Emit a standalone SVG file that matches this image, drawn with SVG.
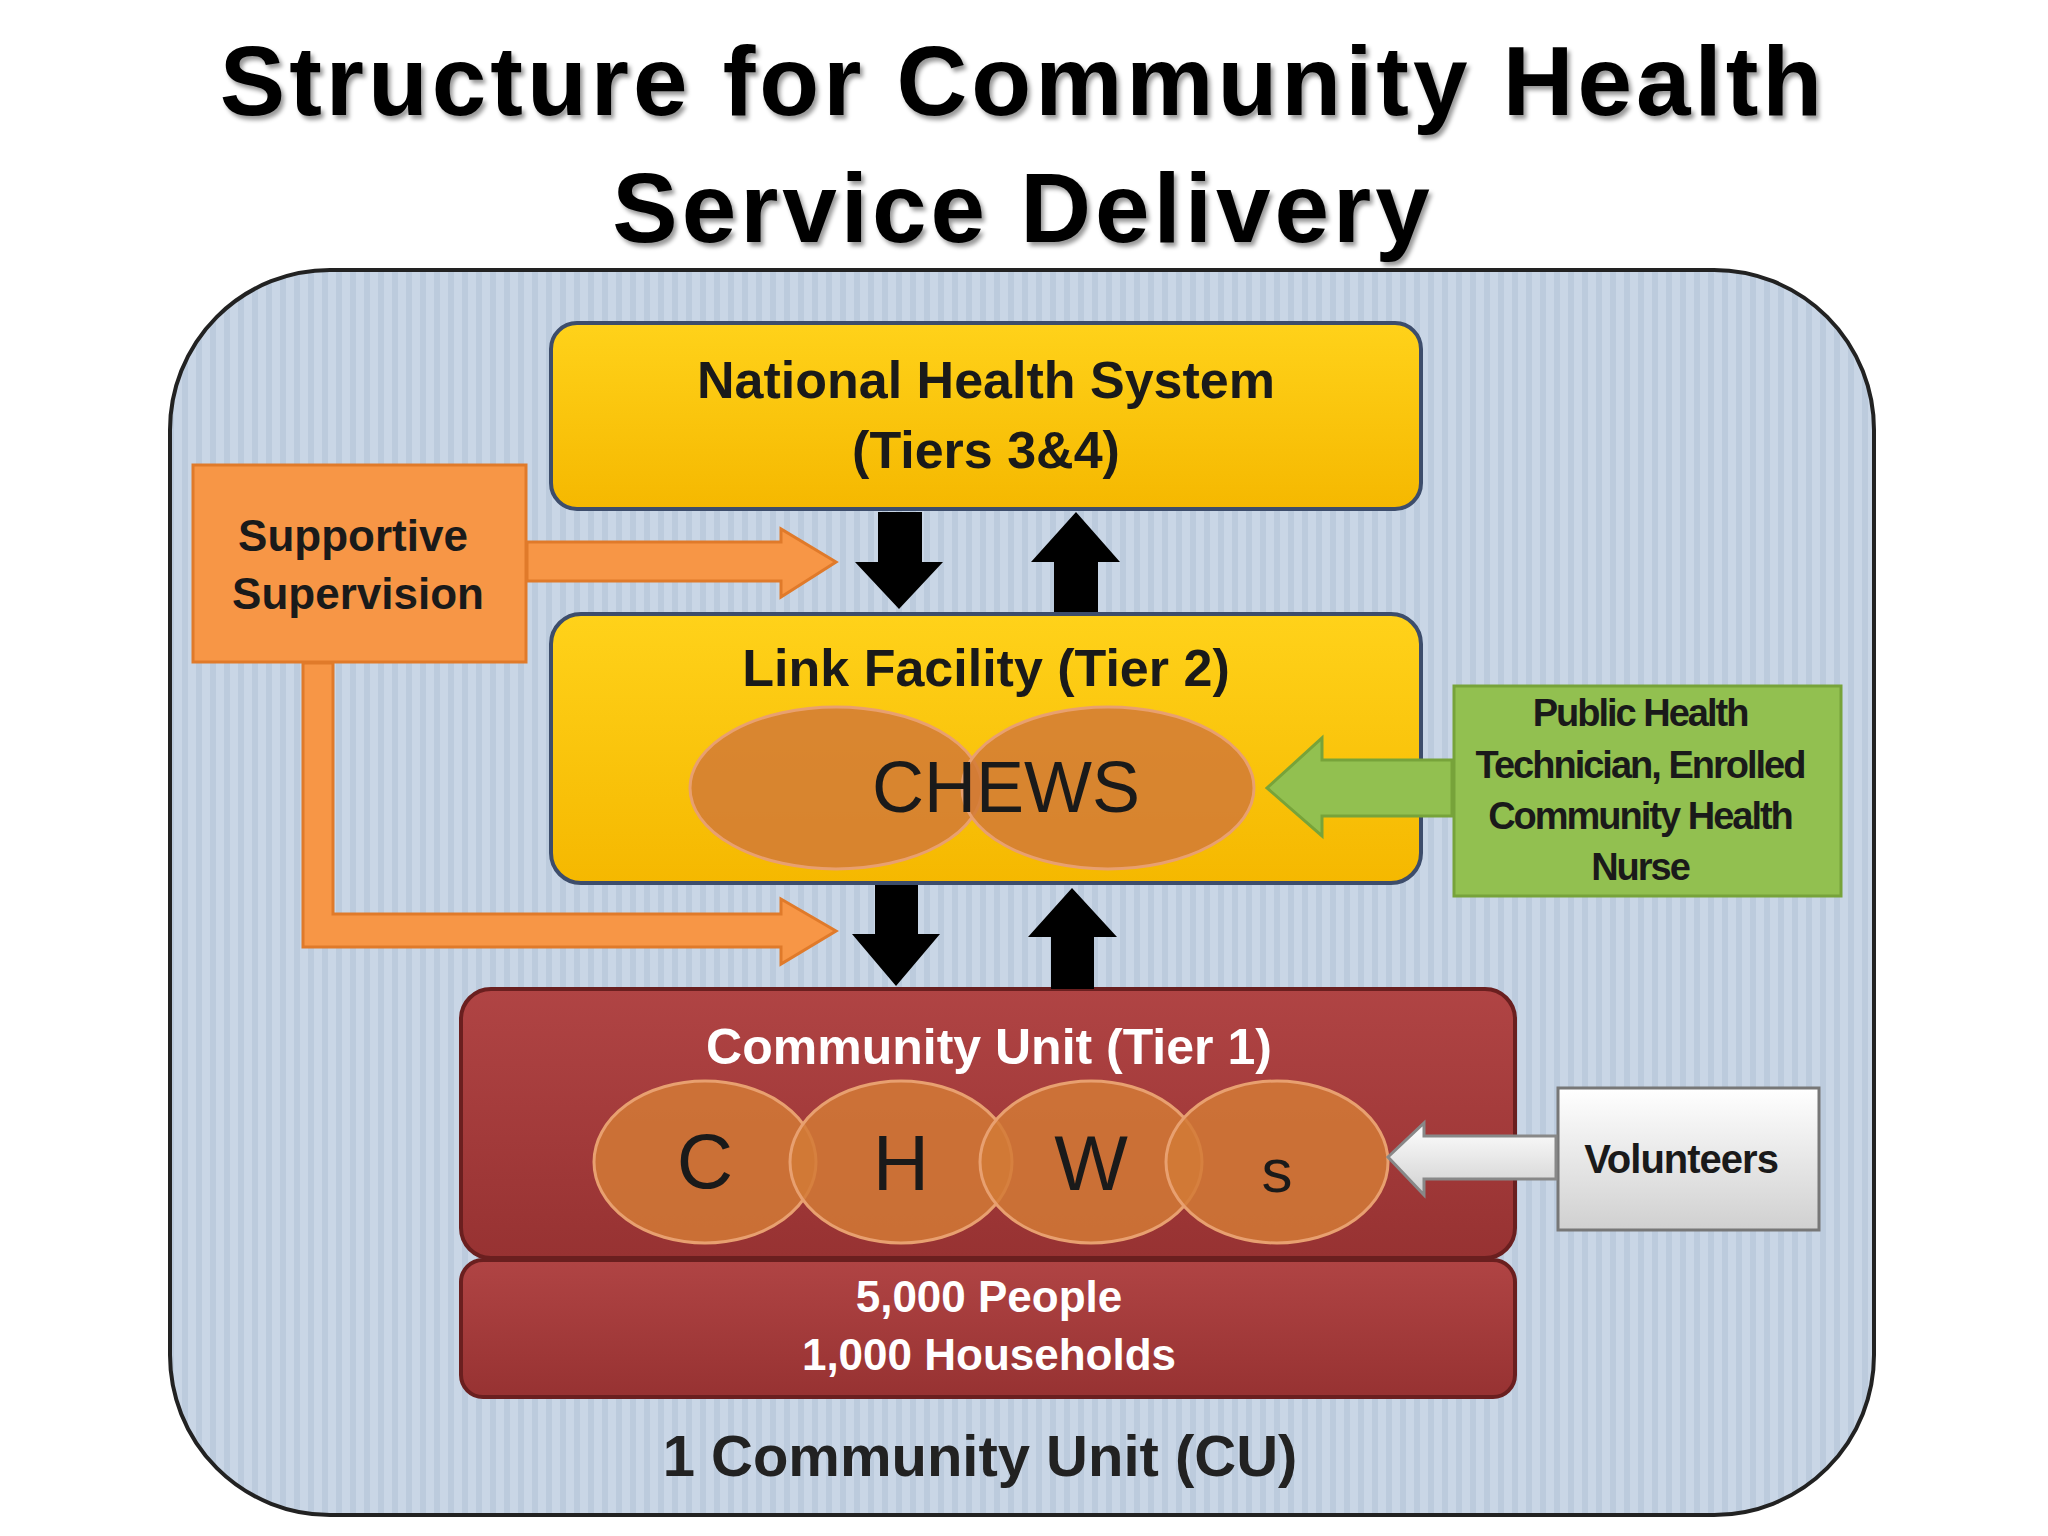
<svg xmlns="http://www.w3.org/2000/svg" width="2048" height="1536" viewBox="0 0 2048 1536">
<defs>
<pattern id="stripes" width="14" height="14" patternUnits="userSpaceOnUse">
<rect width="14" height="14" fill="#c9d6e6"/>
<rect width="6" height="14" fill="#bccbdd"/>
</pattern>
<linearGradient id="yel" x1="0" y1="0" x2="0" y2="1">
<stop offset="0" stop-color="#ffd21a"/><stop offset="1" stop-color="#f5b800"/>
</linearGradient>
<linearGradient id="red" x1="0" y1="0" x2="0" y2="1">
<stop offset="0" stop-color="#b04444"/><stop offset="1" stop-color="#973232"/>
</linearGradient>
<linearGradient id="gray" x1="0" y1="0" x2="0" y2="1">
<stop offset="0" stop-color="#ffffff"/><stop offset="1" stop-color="#d0d0d0"/>
</linearGradient>
<filter id="sh" x="-5%" y="-5%" width="110%" height="120%">
<feDropShadow dx="3" dy="4" stdDeviation="2" flood-color="#000" flood-opacity="0.4"/>
</filter>
</defs>
<style>
text{font-family:"Liberation Sans",Arial,sans-serif;text-anchor:middle}
.title{font-size:98px;font-weight:bold;fill:#000;letter-spacing:4px}
.yb{fill:url(#yel);stroke:#3d4d6b;stroke-width:4}
.lbl{font-size:52px;font-weight:bold;fill:#1a1a1a}
.wl{font-size:50px;font-weight:bold;fill:#ffffff}
.ell{fill:#d27a36;fill-opacity:0.85;stroke:#e8a070;stroke-width:3}
.blk{fill:#000}
.org{fill:#f79646;stroke:#e07a2a;stroke-width:3}
.letter{font-size:78px;fill:#1a1a1a}
</style>
<rect width="2048" height="1536" fill="#fff"/>
<g id="title" filter="url(#sh)">
<text class="title" x="1023" y="115">Structure for Community Health</text>
<text class="title" x="1023" y="242">Service Delivery</text>
</g>
<g id="cu-frame">
<rect x="170" y="270" width="1704" height="1245" rx="160" fill="url(#stripes)" stroke="#222" stroke-width="4"/>
<text x="980" y="1476" style="font-size:58px;font-weight:bold;fill:#222">1 Community Unit (CU)</text>
</g>
<g id="supportive">
<rect x="193" y="465" width="333" height="197" class="org"/>
<text x="353" y="551" style="font-size:44px;font-weight:bold;fill:#1a1a1a">Supportive</text>
<text x="358" y="609" style="font-size:44px;font-weight:bold;fill:#1a1a1a">Supervision</text>
</g>
<g id="nhs">
<rect x="551" y="323" width="870" height="186" rx="26" class="yb"/>
<text class="lbl" x="986" y="398">National Health System</text>
<text class="lbl" x="986" y="468">(Tiers 3&amp;4)</text>
</g>
<g id="link">
<rect x="551" y="614" width="870" height="269" rx="30" class="yb"/>
<text class="lbl" x="986" y="686">Link Facility (Tier 2)</text>
<ellipse class="ell" cx="836" cy="788" rx="146" ry="81"/>
<ellipse class="ell" cx="1108" cy="788" rx="146" ry="81"/>
<text x="1006" y="812" style="font-size:72px;fill:#1a1a1a">CHEWS</text>
</g>
<g id="public-health">
<rect x="1454" y="686" width="387" height="210" fill="#92c050" stroke="#77a33a" stroke-width="3"/>
<g style="font-size:38px;font-weight:bold;fill:#1a1a1a;letter-spacing:-2px">
<text x="1640" y="726">Public Health</text>
<text x="1640" y="778">Technician, Enrolled</text>
<text x="1640" y="829">Community Health</text>
<text x="1640" y="880">Nurse</text>
</g>
</g>
<g id="community-unit">
<rect x="461" y="989" width="1054" height="269" rx="30" fill="url(#red)" stroke="#6a1f1f" stroke-width="4"/>
<text class="wl" x="989" y="1064">Community Unit (Tier 1)</text>
<ellipse class="ell" cx="705" cy="1162" rx="111" ry="81"/>
<ellipse class="ell" cx="901" cy="1162" rx="111" ry="81"/>
<ellipse class="ell" cx="1091" cy="1162" rx="111" ry="81"/>
<ellipse class="ell" cx="1277" cy="1162" rx="111" ry="81"/>
<text class="letter" x="705" y="1188">C</text>
<text class="letter" x="901" y="1190">H</text>
<text class="letter" x="1091" y="1190">W</text>
<text class="letter" x="1277" y="1192" style="font-size:62px">s</text>
</g>
<g id="population">
<rect x="461" y="1260" width="1054" height="137" rx="22" fill="url(#red)" stroke="#6a1f1f" stroke-width="4"/>
<text x="989" y="1312" style="font-size:44px;font-weight:bold;fill:#fff">5,000 People</text>
<text x="989" y="1370" style="font-size:44px;font-weight:bold;fill:#fff">1,000 Households</text>
</g>
<g id="volunteers">
<rect x="1558" y="1088" width="261" height="142" fill="url(#gray)" stroke="#777" stroke-width="3"/>
<text x="1681" y="1173" style="font-size:40px;font-weight:bold;fill:#1a1a1a;letter-spacing:-1px">Volunteers</text>
</g>
<g id="connectors">
<path class="blk" d="M878 512H922V562H943L899 609L855 562H878Z"/>
<path class="blk" d="M1054 612H1098V562H1120L1076 512L1031 562H1054Z"/>
<path class="blk" d="M875 885H918V934H940L896 986L852 934H875Z"/>
<path class="blk" d="M1051 989H1094V937H1117L1072 888L1028 937H1051Z"/>
<path class="org" d="M527 542H781V529L836 562L781 597V581H527Z"/>
<path class="org" d="M303 663H333V914H781V899L836 931L781 964V947H303Z"/>
<path d="M1452 760H1322V738L1267 788L1322 836V816H1452Z" fill="#92c050" stroke="#77a33a" stroke-width="3"/>
<path d="M1556 1136H1424V1123L1388 1157L1424 1195V1179H1556Z" fill="url(#gray)" stroke="#888" stroke-width="3"/>
</g>
</svg>
